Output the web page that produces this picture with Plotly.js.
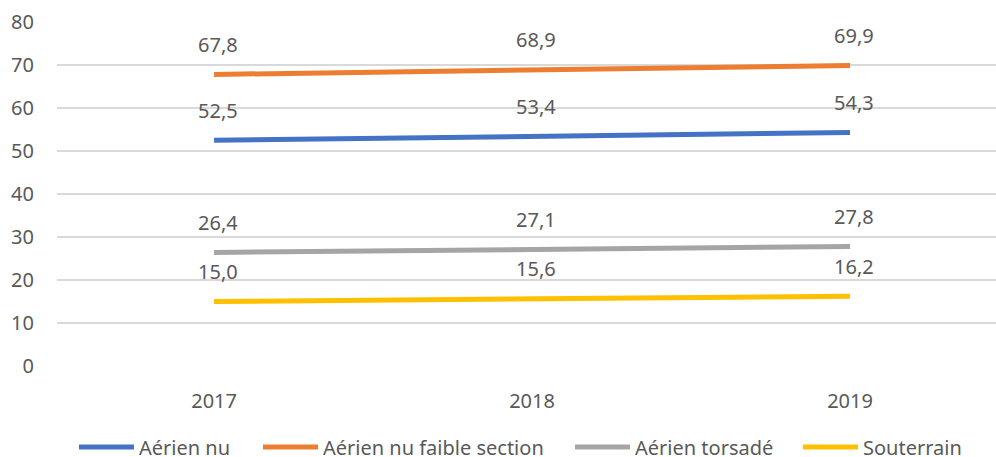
<!DOCTYPE html>
<html>
<head>
<meta charset="utf-8">
<script src="https://cdn.plot.ly/plotly-3.0.1.min.js"></script>
<style>html,body{margin:0;padding:0;background:#fff;}#chart{width:996px;height:457px;}</style>
</head>
<body>
<div id="chart"></div>
<script>
const years = ["2017", "2018", "2019"];
const seriesNames = ["Aérien nu", "Aérien nu faible section", "Aérien torsadé", "Souterrain"];
const aerienNu = [52.5, 53.4, 54.3];
const aerienNuFaible = [67.8, 68.9, 69.9];
const aerienTorsade = [26.4, 27.1, 27.8];
const souterrain = [15.0, 15.6, 16.2];
const colors = ["#4472C4", "#ED7D31", "#A5A5A5", "#FFC000"];
const yTicks = [0, 10, 20, 30, 40, 50, 60, 70, 80];

const allSeries = [aerienNu, aerienNuFaible, aerienTorsade, souterrain];
const FONT = "Noto Sans, Open Sans, sans-serif";
const TXT = "#595959";
const FS = 20;
const legendIds = ["legend", "legend2", "legend3", "legend4"];
const legendLeft = [74, 258, 570, 798];

const traces = allSeries.map((vals, i) => ({
  type: "scatter",
  mode: "lines",
  x: years,
  y: vals,
  name: seriesNames[i],
  legend: legendIds[i],
  line: {color: colors[i], width: 5},
  hoverinfo: "skip"
}));

const annotations = [];
allSeries.forEach(vals => {
  vals.forEach((v, j) => {
    annotations.push({
      x: j, y: v, xref: "x", yref: "y",
      text: v.toFixed(1).replace(".", ","),
      showarrow: false, yshift: 30, xshift: 4,
      font: {family: FONT, size: FS, color: TXT}
    });
  });
});

const layout = {
  width: 996, height: 457,
  margin: {l: 57, r: 0, t: 22, b: 91},
  paper_bgcolor: "#fff", plot_bgcolor: "#fff",
  showlegend: true,
  xaxis: {
    type: "category",
    range: [-0.494, 2.459],
    showgrid: false, zeroline: false, showline: false,
    ticks: "",
    tickfont: {family: FONT, size: FS, color: TXT},
    ticklabelstandoff: 21
  },
  yaxis: {
    range: [0, 80],
    tickvals: yTicks,
    showgrid: true, gridcolor: "#D9D9D9", gridwidth: 1.5,
    zeroline: false, showline: false,
    ticks: "",
    tickfont: {family: FONT, size: FS, color: TXT},
    ticklabelstandoff: 22
  },
  annotations: annotations
};
legendIds.forEach((id, i) => {
  layout[id] = {
    orientation: "h", xref: "container", x: legendLeft[i] / 996, xanchor: "left",
    yref: "container", y: 0.022, yanchor: "middle",
    font: {family: FONT, size: FS, color: TXT},
    itemwidth: 55, bgcolor: "rgba(0,0,0,0)", maxheight: 120
  };
});

Plotly.newPlot("chart", traces, layout, {displayModeBar: false, staticPlot: true}).then(gd => {
  gd.querySelectorAll(".legendlines path").forEach(p => {
    p.setAttribute("d", "M5,0h55");
  });
  gd.querySelectorAll(".legend .scrollbox, .legend").forEach(el => {
    el.removeAttribute("clip-path");
  });
});
</script>
</body>
</html>
